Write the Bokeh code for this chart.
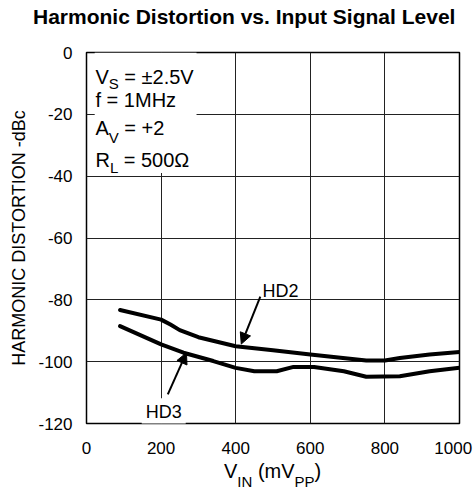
from bokeh.plotting import figure
from bokeh.models import Label, Arrow, NormalHead, BoxAnnotation, FixedTicker, Div
from bokeh.layouts import column
from bokeh.embed import file_html
from bokeh.resources import INLINE

# ---- data ----
hd2_x = [90, 200, 225, 250, 300, 400, 500, 600, 700, 750, 800, 840, 920, 1000]
hd2_y = [-83.3, -86.4, -88.0, -89.8, -92.1, -95.0, -96.3, -97.7, -99.0, -99.6, -99.6, -98.8, -97.7, -96.9]
hd3_x = [90, 200, 260, 340, 400, 450, 510, 555, 610, 690, 750, 840, 920, 1000]
hd3_y = [-88.5, -94.4, -97.1, -99.8, -102.0, -103.1, -103.1, -101.7, -101.7, -103.1, -104.9, -104.7, -103.1, -102.0]
x_ticks = [0, 200, 400, 600, 800, 1000]
y_ticks = [0, -20, -40, -60, -80, -100, -120]
x_tick_labels = ["0", "200", "400", "600", "800", "1000"]
y_tick_labels = ["0", "-20", "-40", "-60", "-80", "-100", "-120"]

FONT = "Liberation Sans"
NB = "\u00a0"

title_div = Div(width=467, height=30, margin=0, text=(
    '<div style="position:relative; left:27px; top:-1px; white-space:nowrap; '
    'font-family:\'Liberation Sans\', Arial, sans-serif; font-size:21px; line-height:21px; '
    'font-weight:bold; color:black;">Harmonic Distortion vs. Input Signal Level</div>'))

xlabel_div = Div(width=467, height=41, margin=0, text=(
    '<div style="position:relative; left:218px; top:1px; white-space:nowrap; '
    'font-family:\'Liberation Sans\', Arial, sans-serif; font-size:20px; line-height:20px; color:black;">'
    'V<span style="font-size:15px; position:relative; top:9px;">IN</span>'
    ' (mV<span style="font-size:15px; position:relative; top:9px;">PP</span>)</div>'))

p = figure(frame_width=373, frame_height=371, x_range=(0, 1000), y_range=(-120, 0),
           output_backend="svg", toolbar_location=None, margin=0,
           min_border_left=78, min_border_right=16, min_border_top=15, min_border_bottom=30)
p.background_fill_color = "white"
p.border_fill_color = "white"
p.outline_line_color = "black"
p.outline_line_width = 1.5

for ax in (p.xaxis[0], p.yaxis[0]):
    ax.axis_line_color = None
    ax.major_tick_line_color = None
    ax.minor_tick_line_color = None
    ax.major_label_text_font = FONT
    ax.major_label_text_font_size = "17px"
    ax.major_label_text_color = "black"
    ax.axis_label_text_font = FONT
    ax.axis_label_text_color = "black"
    ax.axis_label_text_font_style = "normal"

p.xaxis.ticker = FixedTicker(ticks=x_ticks)
p.yaxis.ticker = FixedTicker(ticks=y_ticks)
xo = dict(zip(x_ticks, x_tick_labels))
xo[1000] = x_tick_labels[-1] + "\u2009"   # keeps the last label inside the page
p.xaxis.major_label_overrides = xo
p.yaxis.major_label_overrides = dict(zip(y_ticks, y_tick_labels))
p.xaxis.major_label_standoff = 9
p.yaxis.major_label_standoff = 8
p.yaxis.axis_label = "HARMONIC DISTORTION -dBc"
p.yaxis.axis_label_text_font_size = "18px"
p.yaxis.axis_label_standoff = 6

p.xgrid.ticker = FixedTicker(ticks=x_ticks)
p.ygrid.ticker = FixedTicker(ticks=y_ticks)
for g in (p.xgrid[0], p.ygrid[0]):
    g.grid_line_color = "#222222"
    g.grid_line_width = 1

# curves
p.line(hd2_x, hd2_y, line_width=4, line_color="black", line_join="round", line_cap="round")
p.line(hd3_x, hd3_y, line_width=4, line_color="black", line_join="round", line_cap="round")

def lbl(x_off, y_off, txt, size, x=0, y=0):
    p.add_layout(Label(x=x, y=y, x_offset=x_off, y_offset=y_off, text=txt, text_align="left",
                       text_baseline="alphabetic", text_font=FONT, text_font_size=size,
                       text_color="black"))

# conditions box
p.add_layout(BoxAnnotation(left=22, right=295, top=0, bottom=-39, fill_color="white",
                           fill_alpha=1.0, line_color=None))
bx = 9
lbl(bx, -24, "V", "20px")
lbl(bx + 13.3, -31, "S", "15px")
lbl(bx + 23.3, -24, NB + "= \u00b12.5V", "20px")
lbl(bx, -47, "f = 1MHz", "20px")
lbl(bx, -75.5, "A", "20px")
lbl(bx + 13.3, -85, "V", "15px")
lbl(bx + 23.3, -75.5, NB + "= +2", "20px")
lbl(bx, -107, "R", "20px")
lbl(bx + 14.4, -115, "L", "15px")
lbl(bx + 22.7, -107, NB + "= 500\u03a9", "20px")

# curve labels and arrows
p.add_layout(Label(x=520, y=-77.3, text="HD2", text_align="center", text_baseline="alphabetic",
                   text_font=FONT, text_font_size="18px", text_color="black"))
p.add_layout(Label(x=207, y=-116.4, text="HD3", text_align="center", text_baseline="alphabetic",
                   text_font=FONT, text_font_size="18px", text_color="black",
                   background_fill_color="white", padding=4))
p.add_layout(Arrow(x_start=466, y_start=-79.0, x_end=415, y_end=-94.3, line_width=2,
                   end=NormalHead(size=11, fill_color="black", line_color="black", line_width=1)))
p.add_layout(Arrow(x_start=218, y_start=-110.6, x_end=268, y_end=-97.1, line_width=2,
                   end=NormalHead(size=11, fill_color="black", line_color="black", line_width=1)))

layout = column(title_div, p, xlabel_div, spacing=0, margin=(7, 0, 0, 6))
open("out.html", "w").write(file_html(layout, INLINE))
